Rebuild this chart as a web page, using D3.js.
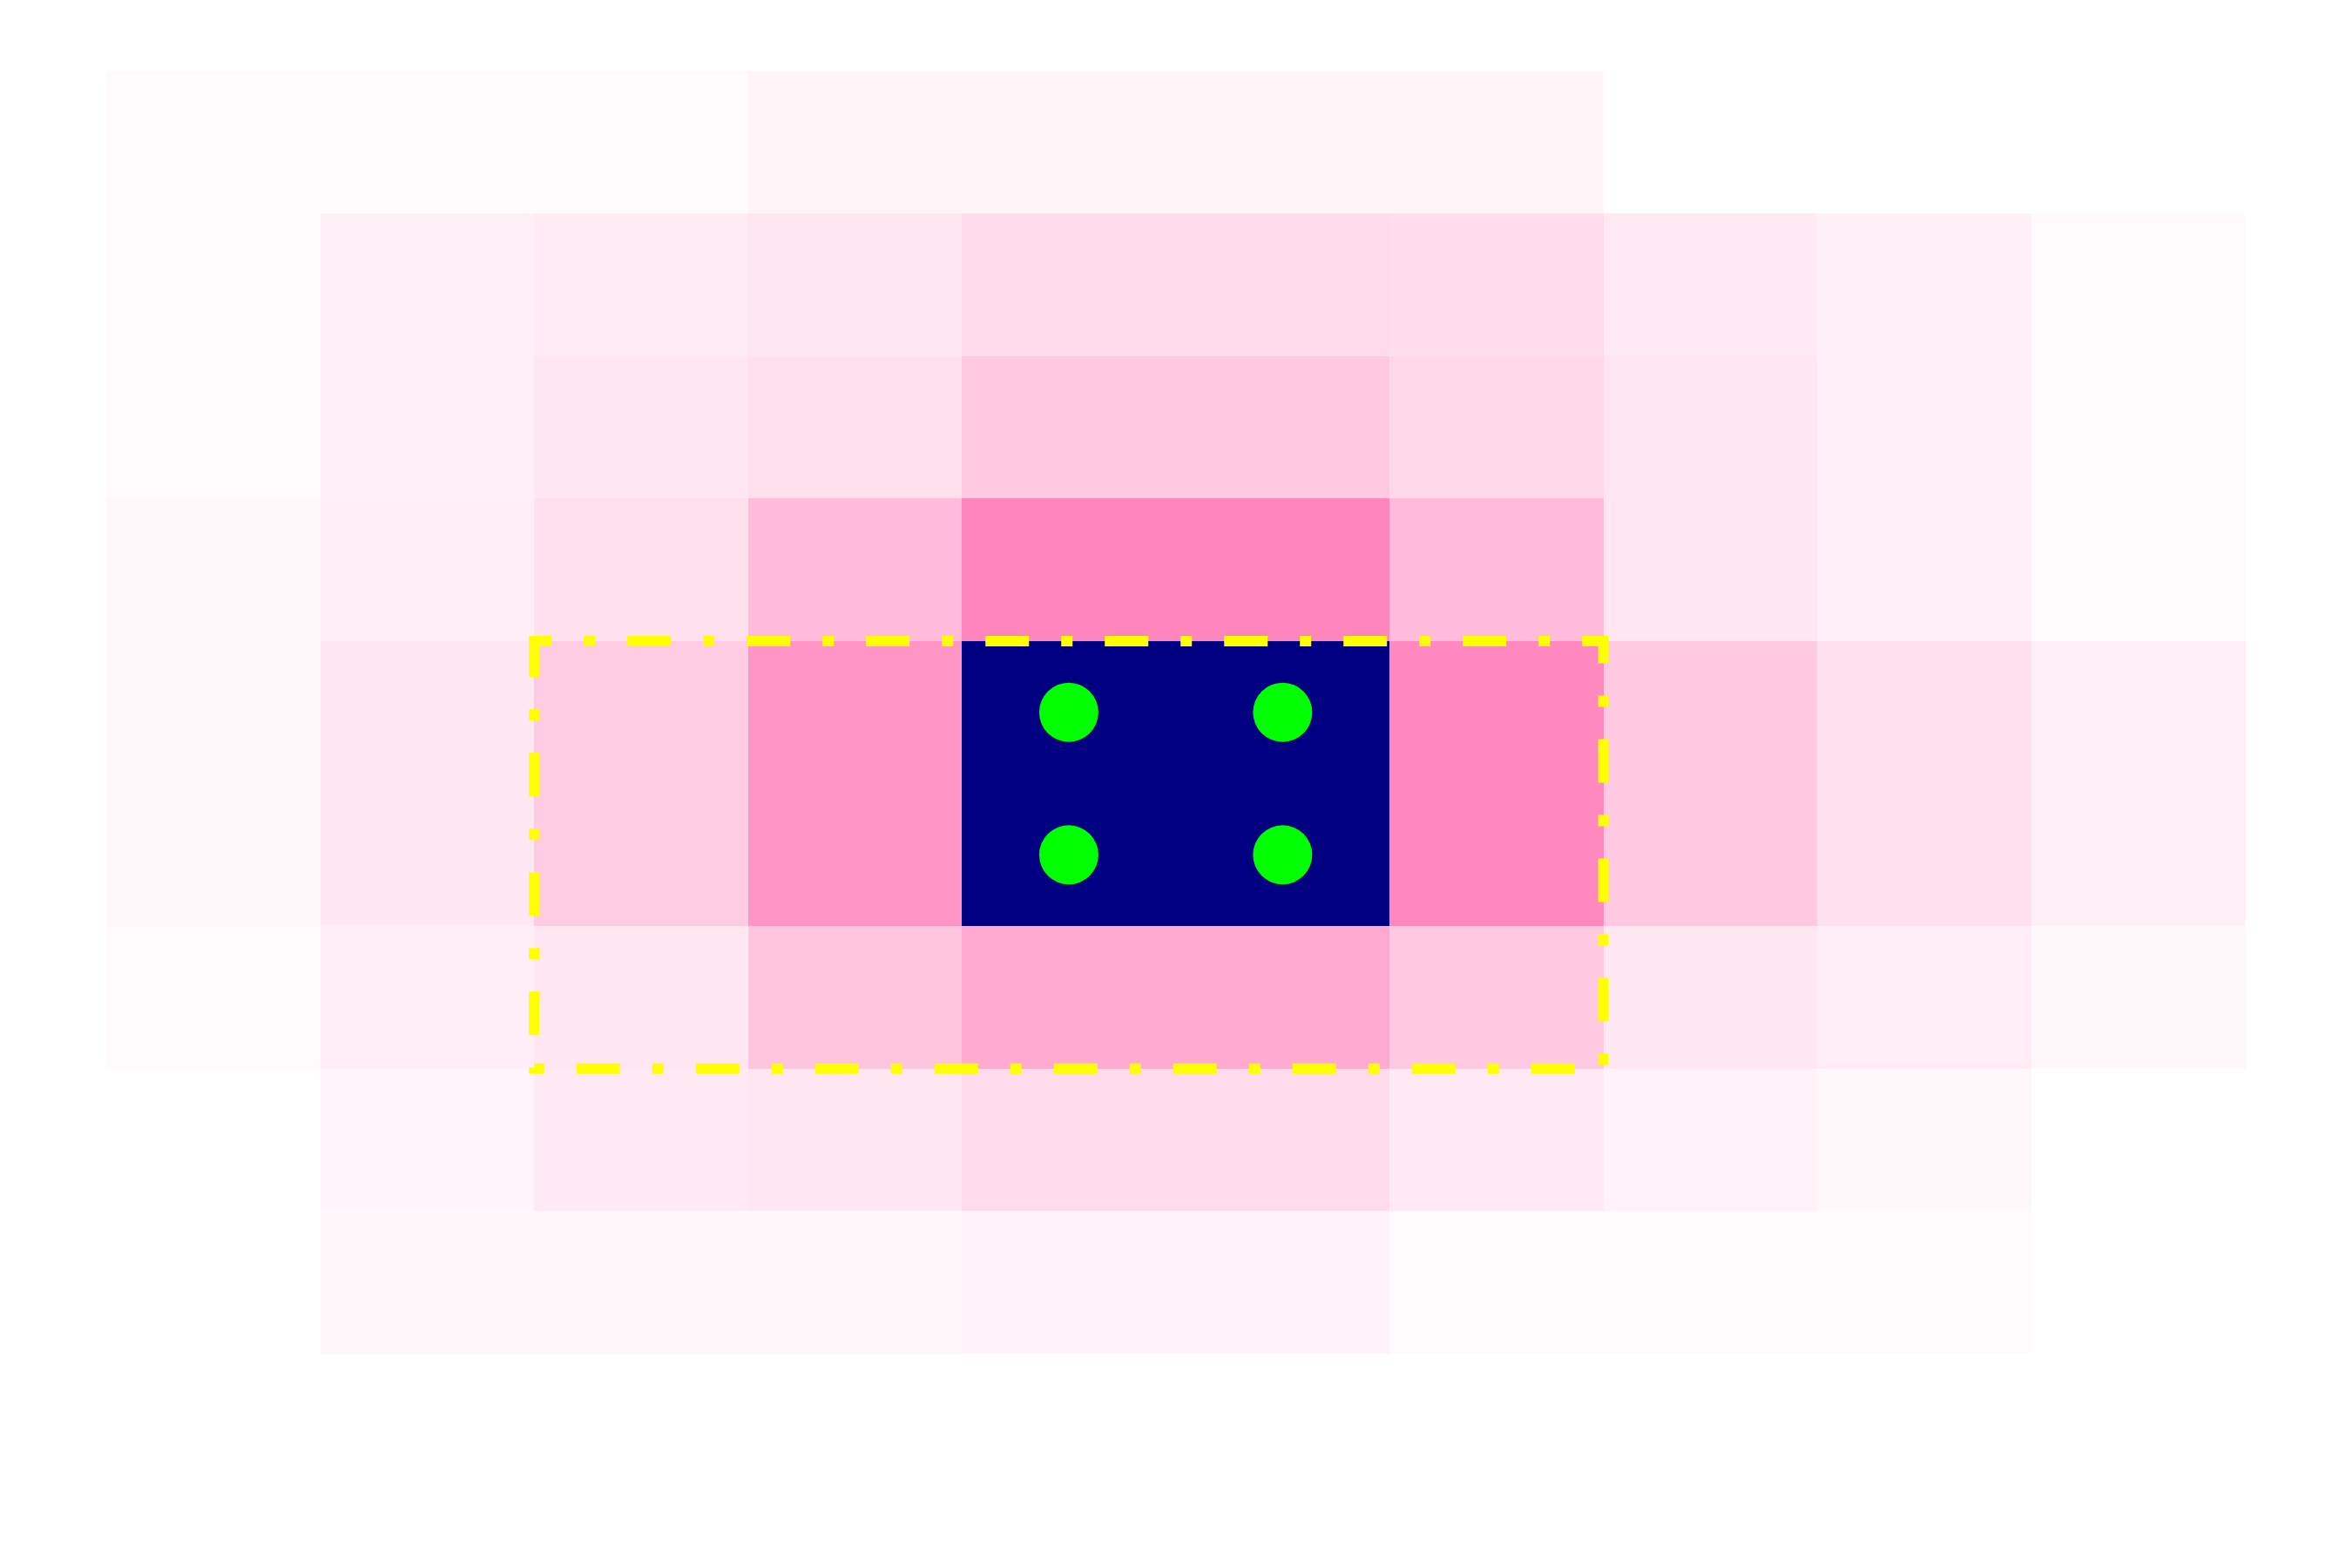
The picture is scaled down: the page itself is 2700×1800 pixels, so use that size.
<!DOCTYPE html>
<html>
<head>
<meta charset="utf-8">
<script src="https://cdn.jsdelivr.net/npm/d3@7"></script>
<style>
  html, body { margin: 0; padding: 0; background: #ffffff; }
  svg { display: block; }
</style>
</head>
<body>
<div id="chart"></div>
<script>
// ---- data ----
const columns = [0, 1, 2, 3, 4, 5, 6, 7, 8, 9];
const rows = [0, 1, 2, 3, 4, 5, 6, 7, 8, 9];
const OVER = 999; // values above the colour range (drawn in the "over" colour)
const row0 = [3, 3, 3, 7.5, 7.5, 7.5, 7.5, 0, 0, 0];
const row1 = [2.5, 12, 16, 19, 30, 30, 27, 17, 12, 2.5];
const row2 = [2.5, 12, 19, 24, 44, 44, 31, 20, 12, 2.5];
const row3 = [5, 13, 24, 55, 100, 100, 55, 20, 12, 2.5];
const row4 = [5, 18, 42, 87, OVER, OVER, 97, 44, 25, 12];
const row5 = [5, 18, 42, 87, OVER, OVER, 97, 44, 25, 12];
const row6 = [2.5, 13, 20, 47, 69, 69, 44, 18, 13, 5];
const row7 = [0, 8, 17, 20, 29, 29, 17, 10, 5, 0];
const row8 = [0, 6, 6, 6, 10, 10, 2.5, 2.5, 2.5, 0];
const row9 = [0, 0, 0, 0, 0, 0, 0, 0, 0, 0];
const grid = [row0, row1, row2, row3, row4, row5, row6, row7, row8, row9];
const vmin = 0, vmax = 100;
const markerCols = [4, 5, 4, 5];
const markerRows = [4, 4, 5, 5];
const boxCols = [2, 6];   // first and last column inside the box
const boxRows = [4, 6];   // first and last row inside the box

// ---- layout ----
const W = 2700, H = 1800;
const mLeft = 122.3, mRight = 2577, mTop = 81.5, mBottom = 1717.5;

const svg = d3.select("#chart").append("svg")
  .attr("width", W).attr("height", H);

const x = d3.scaleBand().domain(columns).range([mLeft, mRight]).padding(0);
const y = d3.scaleBand().domain(rows).range([mTop, mBottom]).padding(0);
const color = d3.scaleLinear().domain([vmin, vmax])
  .range(["#fffefe", "#ff85bd"]).interpolate(d3.interpolateRgb).clamp(true);
const overColor = "#000080";

const cells = [];
grid.forEach((r, ri) => r.forEach((v, ci) => cells.push({ r: rows[ri], c: columns[ci], v })));

svg.append("g").selectAll("rect").data(cells).join("rect")
  .attr("x", d => x(d.c))
  .attr("y", d => y(d.r))
  .attr("width", x.bandwidth() + 0.5)
  .attr("height", y.bandwidth() + 0.5)
  .attr("fill", d => d.v > vmax ? overColor : (d.v <= vmin ? "#ffffff" : color(d.v)))
  .attr("shape-rendering", "crispEdges");

// dash-dot highlight box
const bx0 = x(boxCols[0]), bx1 = x(boxCols[1]) + x.bandwidth();
const by0 = y(boxRows[0]), by1 = y(boxRows[1]) + y.bandwidth();
const p = d3.path();
p.moveTo(bx0, by0); p.lineTo(bx1, by0); p.lineTo(bx1, by1); p.lineTo(bx0, by1); p.closePath();
svg.append("path")
  .attr("d", p.toString())
  .attr("fill", "none")
  .attr("stroke", "#ffff00")
  .attr("stroke-width", 12)
  .attr("stroke-dasharray", "50 37 13 37")
  .attr("stroke-dashoffset", 30);

// markers
svg.append("g").selectAll("circle")
  .data(markerCols.map((c, i) => ({ c, r: markerRows[i] })))
  .join("circle")
  .attr("cx", d => x(d.c) + x.bandwidth() / 2)
  .attr("cy", d => y(d.r) + y.bandwidth() / 2)
  .attr("r", 34)
  .attr("fill", "#00ff00");
</script>
</body>
</html>
